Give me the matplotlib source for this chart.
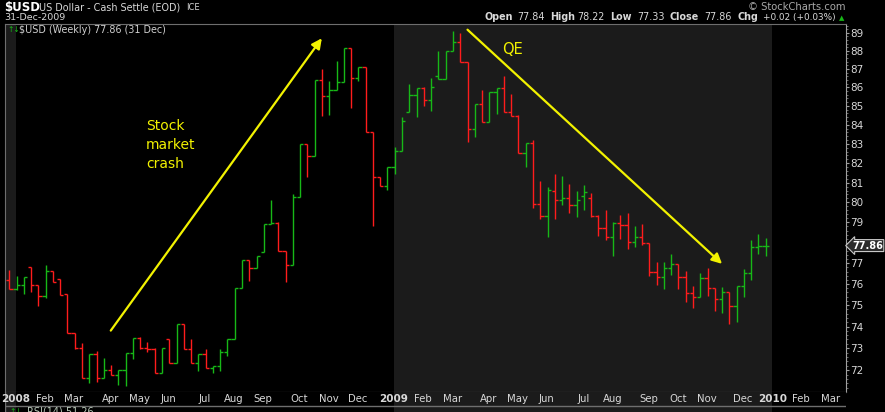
import matplotlib
matplotlib.use("Agg")
import matplotlib.pyplot as plt
from matplotlib.ticker import FixedLocator, NullFormatter
import numpy as np
import pandas as pd

# weekly $USD bars, week 0 = week of 31-Dec-2007, last = 31-Dec-2009
opens = [76.20, 75.75, 75.96, 76.81, 75.96, 75.44, 76.64, 76.25, 75.52, 73.69,
         73.00, 71.64, 72.72, 71.64, 72.01, 71.78, 72.00, 72.77, 73.46, 72.99,
         72.94, 71.87, 73.41, 72.34, 74.12, 72.98, 72.31, 72.72, 72.09, 72.19,
         72.84, 73.41, 75.80, 77.16, 76.76, 77.56, 78.91, 78.95, 77.61, 76.92,
         80.26, 82.99, 82.35, 86.40, 85.55, 85.84, 86.30, 88.13, 86.49, 87.09,
         83.60, 81.27, 80.84, 81.79, 82.61, 84.66, 85.57, 85.95, 85.30, 86.61,
         86.45, 87.98, 88.47, 87.36, 83.79, 85.10, 84.13, 85.73, 85.98, 84.66,
         84.48, 82.51, 83.03, 79.91, 79.31, 80.58, 80.12, 80.21, 79.87, 80.33,
         80.20, 79.33, 78.71, 78.30, 78.96, 78.86, 78.02, 78.30, 77.97, 76.57,
         76.36, 76.76, 76.95, 76.36, 75.57, 75.40, 76.28, 75.80, 75.28, 75.61,
         74.96, 75.91, 76.52, 77.78, 77.84]
highs = [76.68, 76.39, 76.33, 76.81, 75.96, 76.92, 76.64, 76.25, 75.52, 73.69,
         73.23, 72.72, 72.89, 72.54, 72.24, 72.01, 72.77, 73.46, 73.52, 73.29,
         73.00, 73.00, 73.41, 74.12, 74.12, 73.41, 72.72, 72.98, 72.19, 72.95,
         73.41, 75.80, 77.16, 77.16, 77.35, 78.91, 80.12, 79.01, 77.61, 80.40,
         82.99, 82.99, 86.40, 87.00, 86.34, 87.43, 88.13, 88.13, 87.09, 87.09,
         83.60, 81.27, 81.80, 82.83, 84.39, 86.16, 85.95, 86.00, 86.49, 87.98,
         87.98, 89.09, 88.98, 87.36, 85.10, 85.85, 85.73, 85.98, 86.62, 85.64,
         84.52, 83.06, 83.20, 81.08, 80.77, 81.44, 81.34, 80.93, 80.57, 80.88,
         80.45, 79.37, 79.62, 79.04, 79.37, 79.49, 78.83, 78.93, 77.97, 77.05,
         77.05, 77.45, 76.95, 76.63, 75.91, 76.52, 76.77, 75.80, 75.85, 75.61,
         75.92, 76.73, 78.13, 78.42, 78.22]
lows = [75.75, 75.72, 75.52, 75.64, 74.98, 75.33, 76.09, 75.49, 73.69, 72.95,
        71.64, 71.41, 71.45, 71.64, 71.78, 71.33, 71.30, 72.50, 72.96, 72.83,
        71.86, 71.86, 72.34, 72.34, 72.98, 72.31, 71.98, 72.09, 71.86, 71.98,
        72.65, 73.41, 75.80, 76.15, 76.76, 77.56, 78.91, 77.61, 76.12, 76.92,
        80.26, 81.30, 82.35, 84.48, 84.52, 85.84, 86.30, 84.90, 86.35, 83.60,
        78.84, 80.84, 80.64, 81.44, 82.61, 84.66, 84.39, 84.98, 84.74, 86.45,
        86.45, 87.98, 87.36, 83.08, 83.37, 84.13, 84.13, 84.59, 84.66, 84.48,
        82.51, 81.82, 79.74, 79.16, 78.30, 79.16, 79.87, 79.49, 79.29, 79.62,
        79.29, 78.35, 78.13, 77.37, 78.17, 77.71, 77.81, 77.90, 76.40, 75.96,
        75.77, 76.44, 75.75, 75.17, 74.88, 75.40, 75.45, 74.74, 74.65, 74.13,
        74.22, 75.40, 76.20, 77.44, 77.33]
closes = [75.75, 75.96, 76.33, 75.96, 75.44, 76.64, 76.09, 75.49, 73.69, 73.00,
          71.64, 72.72, 71.64, 72.01, 71.78, 72.00, 72.77, 73.46, 72.99, 72.94,
          71.87, 73.00, 72.34, 74.12, 72.98, 72.31, 72.72, 72.09, 72.19, 72.84,
          73.41, 75.80, 77.16, 76.76, 77.35, 78.91, 78.95, 77.61, 76.92, 80.26,
          82.99, 82.35, 86.40, 85.55, 85.84, 86.30, 88.13, 86.49, 87.09, 83.60,
          81.27, 80.84, 81.80, 82.61, 84.18, 85.57, 85.95, 85.30, 86.00, 86.45,
          87.98, 88.47, 87.36, 83.79, 85.10, 84.13, 85.73, 85.98, 84.66, 84.48,
          82.51, 83.03, 79.91, 79.31, 80.62, 80.12, 80.21, 79.87, 80.12, 80.52,
          79.33, 78.71, 78.30, 78.96, 78.86, 78.02, 78.30, 77.97, 76.57, 76.36,
          76.76, 76.95, 76.36, 75.57, 75.40, 76.28, 75.80, 75.28, 75.61, 74.96,
          75.91, 76.52, 77.78, 77.82, 77.86]

price_ticks = list(range(72, 90))
last_close = 77.86

W, H = 885, 412
BG = "#000000"
SHADE = "#1b1b1b"
GREEN = "#17b817"
RED = "#ff1c1c"
TXT = "#d8d8d8"
YEL = "#f2f200"


def fx(x):
    return x / W


def fy(y):
    return 1 - y / H


weeks = np.arange(len(closes))
dates = pd.date_range("2007-12-31", periods=115, freq="W-MON")
prev = np.r_[np.inf, closes[:-1]]
cols = [GREEN if c > p else RED for c, p in zip(closes, prev)]

fig = plt.figure(figsize=(W / 100, H / 100), dpi=100, facecolor=BG)
ax = fig.add_axes([fx(5.3), fy(391.7), fx(845.7 - 5.3), (391.7 - 24) / H])
band = fig.add_axes([fx(5.3), 0, fx(845.7 - 5.3), fy(391.7)])
x0, x1 = -0.55, 115.0
for a in (ax, band):
    a.set_facecolor(BG)
    a.set_xlim(x0, x1)

# alternate year shading
starts = [i for i in range(1, len(dates)) if dates[i].year != dates[i - 1].year]
edges = [x0] + [s - 0.1 for s in starts] + [x1]
for k in range(len(edges) - 1):
    if dates[max(int(np.ceil(edges[k])), 0)].year % 2 == 1:
        ax.axvspan(edges[k], edges[k + 1], color=SHADE, lw=0, zorder=0)
        band.axvspan(edges[k], edges[k + 1], ymin=0, ymax=1, color=SHADE, lw=0, zorder=0)

# OHLC bars
ax.vlines(weeks, lows, highs, colors=cols, lw=1.0, zorder=3)
ax.hlines(opens, weeks - 0.45, weeks, colors=cols, lw=1.0, zorder=3)
ax.hlines(closes, weeks, weeks + 0.45, colors=cols, lw=1.0, zorder=3)

ax.set_yscale("log")
ax.set_ylim(71.03, 89.49)
ax.yaxis.set_major_locator(FixedLocator(price_ticks))
ax.yaxis.set_minor_locator(FixedLocator(np.arange(71.2, 89.5, 0.2)))
ax.yaxis.set_minor_formatter(NullFormatter())
# the level under the last-price tag is hidden
ax.set_yticklabels(["" if abs(t - last_close) < 0.5 else str(t) for t in price_ticks])
ax.yaxis.tick_right()
ax.tick_params(axis="y", which="major", colors="#9a9a9a", labelcolor=TXT,
               length=2.5, width=0.8, pad=1.0, labelsize=7.5)
ax.tick_params(axis="y", which="minor", colors="#7a7a7a", length=1.2, width=0.6)
ax.set_xticks(weeks.tolist() + list(range(len(weeks), 115)))
ax.tick_params(axis="x", colors="#8a8a8a", length=2, width=0.7, labelbottom=False)
for s in ["left", "top", "bottom"]:
    ax.spines[s].set_color("#6e6e6e")
ax.spines["right"].set_color("#a0a0a0")

# month labels in the band
band.set_ylim(0, 1)
band.set_xticks([])
band.set_yticks([])
for s in band.spines.values():
    s.set_visible(False)
band.axhline(1 - (406 - 391.7) / (412 - 391.7), color="#6e6e6e", lw=1.0)
band.axvline(x0, color="#6e6e6e", lw=1.0)
for i in range(1, len(dates)):
    if dates[i].month != dates[i - 1].month:
        if dates[i].month == 1:
            band.text(i - 0.1, 0.63, str(dates[i].year), ha="center", va="center",
                      color=TXT, fontsize=7.5, fontweight="bold")
        else:
            band.text(i - 0.1, 0.63, dates[i].strftime("%b"), ha="center", va="center",
                      color=TXT, fontsize=7.3)
fig.text(fx(27), fy(406.5), "RSI(14) 51.26", color="#b8c8b8", fontsize=7, va="top")
fig.text(fx(9), fy(406.5), "↑↓", color=GREEN, fontsize=5.5, va="top")

# last price tag
ax.annotate(f"{last_close:.2f}", xy=(1.0, last_close), xycoords=("axes fraction", "data"),
            xytext=(4.5, 0), textcoords="offset points", ha="left", va="center",
            color="white", fontsize=7, fontweight="bold",
            bbox=dict(boxstyle="larrow,pad=0.1", fc="#2b2b2b", ec="#c8c8c8", lw=0.8),
            annotation_clip=False, zorder=10)

# annotations
ax.annotate("", xy=(42.97, 88.69), xytext=(13.95, 73.81),
            arrowprops=dict(arrowstyle="-|>", color=YEL, lw=1.6, mutation_scale=15,
                            shrinkA=0, shrinkB=0), zorder=5)
ax.annotate("", xy=(98.0, 76.97), xytext=(63.0, 89.17),
            arrowprops=dict(arrowstyle="-|>", color=YEL, lw=1.6, mutation_scale=15,
                            shrinkA=0, shrinkB=0), zorder=5)
fig.text(fx(146), fy(119), "Stock\nmarket\ncrash", color=YEL, fontsize=10,
         va="top", ha="left", linespacing=1.45)
fig.text(fx(502), fy(50), "QE", color=YEL, fontsize=10.5, va="center", ha="left")

# header
fig.text(fx(4), fy(7), "$USD", color="white", fontsize=8.5, fontweight="bold", va="center")
fig.text(fx(39), fy(7), "US Dollar - Cash Settle (EOD)", color=TXT, fontsize=6.9, va="center")
fig.text(fx(186), fy(7.5), "ICE", color=TXT, fontsize=6.0, va="center")
fig.text(fx(4), fy(17.5), "31-Dec-2009", color=TXT, fontsize=6.8, va="center")
fig.text(fx(845), fy(6.5), "© StockCharts.com", color="#a8a8a8", fontsize=7.2,
         va="center", ha="right")
stats = [("Open", 485, True, 6.9), ("77.84", 517, False, 6.9), ("High", 550, True, 6.9),
         ("78.22", 577, False, 6.9), ("Low", 610, True, 6.9), ("77.33", 637, False, 6.9),
         ("Close", 670, True, 6.9), ("77.86", 704, False, 6.9), ("Chg", 737.5, True, 6.9),
         ("+0.02 (+0.03%)", 763, False, 6.4)]
for s, xp, b, fs in stats:
    fig.text(fx(xp), fy(17.5), s, color=TXT, fontsize=fs,
             fontweight="bold" if b else "normal", va="center")
fig.text(fx(838.5), fy(18.5), "▲", color=GREEN, fontsize=5.0, va="center")
fig.text(fx(7), fy(30), "↑↓", color=GREEN, fontsize=5.5, va="center")
fig.text(fx(19), fy(30), "$USD (Weekly) 77.86 (31 Dec)", color="#cfcfcf",
         fontsize=6.9, va="center")

fig.savefig("out.png", dpi=100, facecolor=BG)
